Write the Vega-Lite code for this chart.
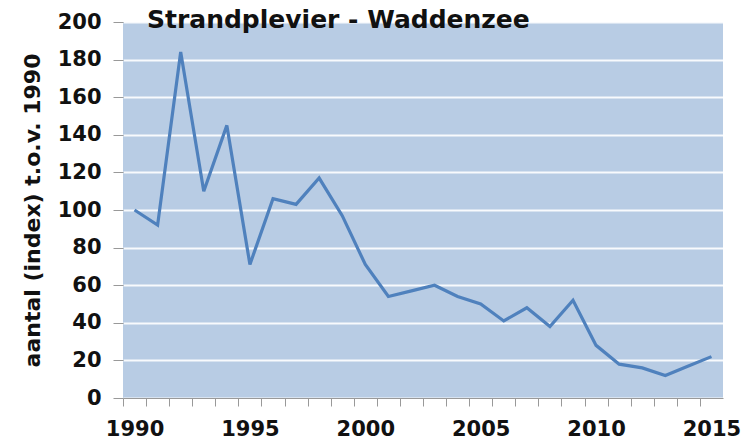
{
  "$schema": "https://vega.github.io/schema/vega-lite/v6.json",
  "width": 600,
  "height": 376,
  "autosize": "none",
  "padding": {"left": 123, "top": 22, "right": 25, "bottom": 47},
  "background": "white",
  "title": {
    "text": "Strandplevier - Waddenzee",
    "anchor": "start",
    "frame": "group",
    "dx": 24,
    "offset": -42,
    "baseline": "alphabetic",
    "font": "DejaVu Sans",
    "fontSize": 25,
    "fontWeight": "bold",
    "color": "#111"
  },
  "config": {
    "view": {"fill": "#b8cce4", "stroke": null},
    "axis": {
      "labelFont": "DejaVu Sans",
      "labelFontSize": 21,
      "labelFontWeight": "bold",
      "labelColor": "#111",
      "titleFont": "DejaVu Sans",
      "titleFontSize": 22,
      "titleFontWeight": "bold",
      "titleColor": "#111",
      "tickColor": "#999",
      "domainColor": "#999"
    }
  },
  "data": {
    "values": [
      {"year": 1990, "index": 100},
      {"year": 1991, "index": 92},
      {"year": 1992, "index": 184},
      {"year": 1993, "index": 110},
      {"year": 1994, "index": 145},
      {"year": 1995, "index": 71},
      {"year": 1996, "index": 106},
      {"year": 1997, "index": 103},
      {"year": 1998, "index": 117},
      {"year": 1999, "index": 97},
      {"year": 2000, "index": 71},
      {"year": 2001, "index": 54},
      {"year": 2002, "index": 57},
      {"year": 2003, "index": 60},
      {"year": 2004, "index": 54},
      {"year": 2005, "index": 50},
      {"year": 2006, "index": 41},
      {"year": 2007, "index": 48},
      {"year": 2008, "index": 38},
      {"year": 2009, "index": 52},
      {"year": 2010, "index": 28},
      {"year": 2011, "index": 18},
      {"year": 2012, "index": 16},
      {"year": 2013, "index": 12},
      {"year": 2014, "index": 17},
      {"year": 2015, "index": 22}
    ]
  },
  "mark": {"type": "line", "color": "#4f81bd", "strokeWidth": 3.2},
  "encoding": {
    "x": {
      "field": "year",
      "type": "quantitative",
      "scale": {"domain": [1989.5, 2015.5], "nice": false, "zero": false},
      "axis": {
        "title": null,
        "values": [1990, 1991, 1992, 1993, 1994, 1995, 1996, 1997, 1998, 1999, 2000, 2001, 2002, 2003, 2004, 2005, 2006, 2007, 2008, 2009, 2010, 2011, 2012, 2013, 2014, 2015],
        "format": "d",
        "labelExpr": "datum.value % 5 === 0 ? datum.label : ''",
        "tickOffset": -11.54,
        "labelOffset": 11.54,
        "tickSize": 8,
        "labelPadding": 12,
        "grid": false,
        "labelFlush": false,
        "labelOverlap": false
      }
    },
    "y": {
      "field": "index",
      "type": "quantitative",
      "scale": {"domain": [0, 200], "nice": false},
      "axis": {
        "title": "aantal (index) t.o.v. 1990",
        "values": [0, 20, 40, 60, 80, 100, 120, 140, 160, 180, 200],
        "tickSize": 10,
        "labelPadding": 12,
        "titlePadding": 13,
        "domain": false,
        "grid": true,
        "gridColor": "white",
        "gridWidth": 2,
        "gridOpacity": 0.9,
        "labelFlush": false
      }
    }
  }
}
